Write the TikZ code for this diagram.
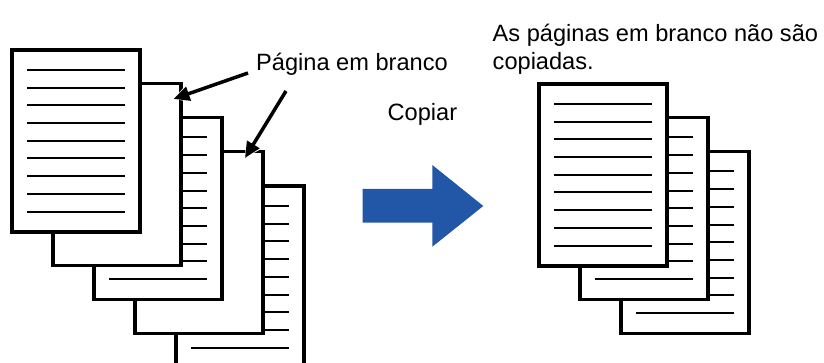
\documentclass[tikz,border=0pt]{standalone}
\usepackage{fontspec}
\setmainfont{Liberation Sans}
\usetikzlibrary{arrows.meta,calc}
\definecolor{copyblue}{RGB}{34,86,166}
\begin{document}
\begin{tikzpicture}[x=1pt,y=-1pt,
  page/.style={draw=black,fill=white,line width=3.2pt,minimum width=128pt,minimum height=182pt,inner sep=0pt,outer sep=0pt},
  textline/.style={line width=2pt},
  lbl/.style={font=\fontsize{23.6}{28}\selectfont,inner sep=0pt,anchor=base west},
  callout/.style={line width=3.5pt,-{Triangle[length=16pt,width=14pt]}},
  halo/.style={white,line width=8pt,-{Triangle[length=20pt,width=21pt]}}]
\useasboundingbox (0,0) rectangle (824,363);
\clip (0,0) rectangle (824,363);
\fill[white] (0,0) rectangle (824,363);
% left stack (back to front)
\node[page] (p5) at (240,277) {};
\foreach \k in {0,...,8} \draw[textline] ($(p5.north west)+(15,20+17.7*\k)$) -- ++(98,0);
\node[page] (p4) at (199,242.5) {};
\node[page] (p3) at (158,208.5) {};
\foreach \k in {0,...,8} \draw[textline] ($(p3.north west)+(15,20+17.7*\k)$) -- ++(98,0);
\node[page] (p2) at (117,174.5) {};
\node[page] (p1) at (76,141) {};
\foreach \k in {0,...,8} \draw[textline] ($(p1.north west)+(15,20+17.7*\k)$) -- ++(98,0);
% right stack
\node[page] (r3) at (685,242.5) {};
\foreach \k in {0,...,8} \draw[textline] ($(r3.north west)+(15,20+17.7*\k)$) -- ++(98,0);
\node[page] (r2) at (644,208.5) {};
\foreach \k in {0,...,8} \draw[textline] ($(r2.north west)+(15,20+17.7*\k)$) -- ++(98,0);
\node[page] (r1) at (603,175) {};
\foreach \k in {0,...,8} \draw[textline] ($(r1.north west)+(15,20+17.7*\k)$) -- ++(98,0);
% labels
\node[lbl] (blank) at (256,70.5) {Página em branco};
\node[lbl] (copy) at (387.5,121) {Copiar};
\node[lbl] (res1) at (492.5,41.5) {As páginas em branco não são};
\node[lbl] (res2) at (492.5,70) {copiadas.};
% callout arrows
\coordinate (s1) at ($(blank.base west)+(-8,2.5)$);
\coordinate (t1) at ($(p2.north east)+(-7.5,15.5)$);
\coordinate (s2) at ($(blank.base west)+(30,20.5)$);
\coordinate (t2) at ($(p4.north east)+(-18,6.5)$);
\draw[halo] (s1) -- (t1);
\draw[callout] (s1) -- (t1);
\draw[halo] (s2) -- (t2);
\draw[callout] (s2) -- (t2);
% copy arrow
\fill[copyblue] (362.7,189) -- (432.3,189) -- (432.3,165) -- (483.3,206) -- (432.3,246.7) -- (432.3,222.7) -- (362.7,222.7) -- cycle;
\end{tikzpicture}
\end{document}
